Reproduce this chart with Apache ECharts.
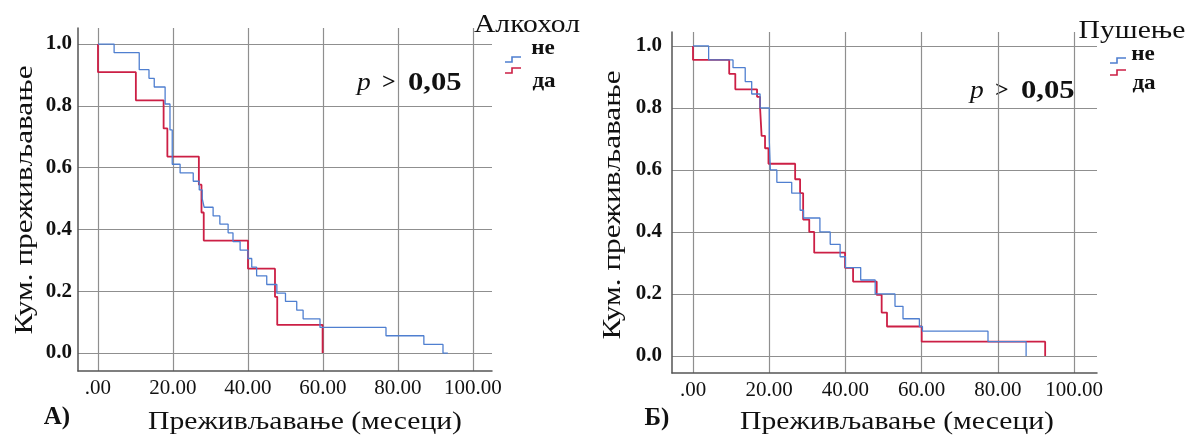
<!DOCTYPE html>
<html>
<head>
<meta charset="utf-8">
<script src="https://cdn.jsdelivr.net/npm/echarts@6/dist/echarts.min.js"></script>
<style>
html,body{margin:0;padding:0;background:#fff;}
#c{width:1195px;height:442px;}
</style>
</head>
<body>
<div id="c"></div>
<script>
// ---- data (months, cumulative survival) ----
const xTicks = [0, 20, 40, 60, 80, 100];
const yTicks = [0, 0.2, 0.4, 0.6, 0.8, 1.0];

// Panel A: alcohol
const alcNo = [[0,1],[4.3,0.972],[11,0.917],[13.6,0.889],[15,0.861],[17.9,0.806],[19.2,0.722],[19.8,0.611],[21.9,0.583],[25.4,0.556],[27,0.528],[27.8,0.5],[28.3,0.472],[30.7,0.444],[32.5,0.417],[34.7,0.389],[36,0.361],[37.9,0.333],[40,0.306],[41,0.278],[42.3,0.25],[45,0.222],[47.7,0.194],[50,0.167],[53,0.139],[54.7,0.111],[59.2,0.083],[76.8,0.056],[86.9,0.028],[92,0],[93.3,0]];
const alcYes = [[0,1],[0,0.909],[10.1,0.818],[17.5,0.727],[18.5,0.636],[26.9,0.545],[27.6,0.455],[28.2,0.364],[40,0.273],[47.2,0.182],[47.8,0.091],[59.9,0]];

// Panel B: smoking
const smkNo = [[0,1],[4.1,0.955],[10.5,0.93],[13.7,0.885],[15.4,0.845],[17.6,0.80],[20.0,0.70],[20.3,0.60],[22,0.56],[25.9,0.525],[28.1,0.47],[29,0.445],[33.3,0.40],[36,0.36],[38.6,0.32],[40,0.285],[44,0.245],[47.8,0.20],[53,0.16],[55.1,0.12],[59.4,0.095],[60.2,0.08],[77.4,0.046],[87.4,0]];
const smkYes = [[0,1],[0,0.955],[9.5,0.91],[11.1,0.86],[16.8,0.836],[17.6,0.80],[18.0,0.71],[18.9,0.67],[19.8,0.62],[26.8,0.57],[28.1,0.525],[28.9,0.44],[30.5,0.40],[31.8,0.333],[39.9,0.284],[42,0.24],[48.2,0.197],[49.5,0.14],[50.9,0.095],[60,0.046],[92.4,0]];

const groupNames = ['не', 'да'];
const legendTitles = ['Алкохол', 'Пушење'];
const panelLabels = ['А)', 'Б)'];
const xName = 'Преживљавање (месеци)';
const yName = 'Кум. преживљавање';
const pParts = ['p', '>', '0,05'];

const BLUE = '#4f7fd0';
const RED = '#cc1f45';
const FONT = '"Liberation Serif", "DejaVu Serif", serif';
const GRIDC = '#8f8f8f';
const AXISC = '#555';

function xAxisCfg(gi, min, max) {
  return {
    type: 'value', gridIndex: gi, min: min, max: max,
    axisLine: {show: true, onZero: false, lineStyle: {color: AXISC, width: 1.5}},
    axisTick: {show: false, customValues: xTicks},
    axisLabel: {customValues: xTicks, color: '#111', fontFamily: FONT, fontSize: 21, margin: 7,
      formatter: v => v === 0 ? '.00' : v.toFixed(2)},
    splitLine: {show: true, lineStyle: {color: GRIDC, width: 1.2}}
  };
}
function yAxisCfg(gi, min, max, margin) {
  return {
    type: 'value', gridIndex: gi, min: min, max: max,
    axisLine: {show: true, onZero: false, lineStyle: {color: AXISC, width: 1.5}},
    axisTick: {show: false, customValues: yTicks},
    axisLabel: {customValues: yTicks, color: '#111', fontFamily: FONT, fontSize: 21, fontWeight: 'bold', margin: margin,
      formatter: v => v.toFixed(1)},
    splitLine: {show: true, lineStyle: {color: GRIDC, width: 1.2}}
  };
}
function lineSeries(name, data, color, w, gi) {
  return {
    type: 'line', name: name, data: data, step: 'end', xAxisIndex: gi, yAxisIndex: gi,
    symbol: 'none', animation: false, lineStyle: {color: color, width: w}, z: color === RED ? 3 : 4
  };
}
function txt(x, y, text, font, opts, align) {
  return Object.assign({type: 'text', x: x, y: y,
    style: {text: text, fill: '#111', font: font, align: align || 'center', verticalAlign: 'middle'}}, opts || {});
}
function legendIcon(x, y, color) {
  return {type: 'polyline', shape: {points: [[x, y + 5], [x + 7, y + 5], [x + 7, y], [x + 16, y]]},
    style: {stroke: color, lineWidth: 1.6, fill: null}};
}
function pLabel(x, y) {
  return [
    txt(x, y, pParts[0], 'italic 25px ' + FONT, {scaleX: 1.1}, 'left'),
    txt(x + 25, y, pParts[1], 'bold 24px ' + FONT, {}, 'left'),
    txt(x + 51, y, pParts[2], 'bold 26px ' + FONT, {scaleX: 1.18}, 'left')
  ];
}

const NAMEF = '26px ' + FONT;
const chart = echarts.init(document.getElementById('c'), null, {renderer: 'canvas'});
chart.setOption({
  animation: false,
  backgroundColor: '#fff',
  grid: [
    {left: 78, top: 28, width: 414, height: 343, containLabel: false},
    {left: 672, top: 32, width: 425, height: 341, containLabel: false}
  ],
  xAxis: [xAxisCfg(0, -5.33, 105.07), xAxisCfg(1, -5.51, 106.0)],
  yAxis: [yAxisCfg(0, -0.058, 1.052, 6), yAxisCfg(1, -0.055, 1.045, 10)],
  series: [
    lineSeries(groupNames[0], alcNo, BLUE, 1.3, 0),
    lineSeries(groupNames[1], alcYes, RED, 1.8, 0),
    lineSeries(groupNames[0], smkNo, BLUE, 1.3, 1),
    lineSeries(groupNames[1], smkYes, RED, 1.8, 1)
  ],
  graphic: [
    txt(305, 422, xName, NAMEF, {scaleX: 1.14}),
    txt(897, 422, xName, NAMEF, {scaleX: 1.14}),
    txt(25, 200, yName, NAMEF, {rotation: Math.PI / 2, scaleX: 1.2}),
    txt(613, 205, yName, NAMEF, {rotation: Math.PI / 2, scaleX: 1.2}),
    txt(57, 418, panelLabels[0], 'bold 25px ' + FONT),
    txt(657, 419, panelLabels[1], 'bold 25px ' + FONT),
    txt(527, 25, legendTitles[0], NAMEF, {scaleX: 1.14}),
    txt(1132, 31, legendTitles[1], NAMEF, {scaleX: 1.14}),
    txt(543, 48, groupNames[0], 'bold 22px ' + FONT, {scaleX: 1.05}),
    txt(544, 81, groupNames[1], 'bold 22px ' + FONT, {scaleX: 1.05}),
    txt(1143, 54, groupNames[0], 'bold 22px ' + FONT, {scaleX: 1.05}),
    txt(1144, 83, groupNames[1], 'bold 22px ' + FONT, {scaleX: 1.05}),
    legendIcon(505, 57, BLUE),
    legendIcon(505, 68, RED),
    legendIcon(1110, 58, BLUE),
    legendIcon(1110, 70, RED)
  ].concat(pLabel(357, 83), pLabel(970, 91))
});
</script>
</body>
</html>
